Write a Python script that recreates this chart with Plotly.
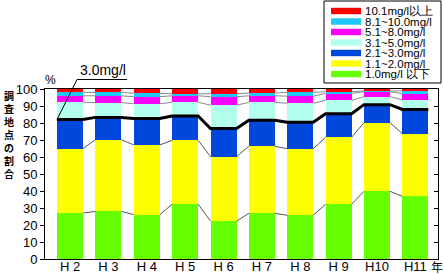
import plotly.graph_objects as go

# ---------------- data ----------------
categories = ["H 2", "H 3", "H 4", "H 5", "H 6", "H 7", "H 8", "H 9", "H10", "H11"]
green_le1 = [27.0, 28.0, 26.1, 32.2, 22.3, 26.9, 25.7, 32.2, 39.8, 36.9]
yellow_1_2 = [38.0, 42.2, 41.0, 37.6, 37.9, 39.4, 39.2, 39.4, 40.4, 36.8]
blue_2_3 = [17.0, 13.1, 15.6, 14.3, 16.5, 15.3, 15.5, 13.9, 10.6, 14.3]
aqua_3_5 = [10.2, 8.7, 8.6, 8.1, 13.8, 10.5, 11.2, 7.8, 4.7, 5.7]
magenta_5_8 = [3.8, 4.0, 4.2, 3.8, 5.0, 3.9, 4.2, 4.1, 2.9, 3.6]
cyan_8_10 = [2.0, 2.0, 2.0, 1.2, 1.7, 1.6, 2.2, 1.0, 0.5, 1.5]
red_ge10 = [2.0, 2.0, 2.5, 2.8, 2.8, 2.4, 2.0, 1.6, 1.1, 1.2]

series_names = ["1.0mg/l 以下", "1.1~2.0mg/l", "2.1~3.0mg/l", "3.1~5.0mg/l",
                "5.1~8.0mg/l", "8.1~10.0mg/l", "10.1mg/l以上"]
series_values = [green_le1, yellow_1_2, blue_2_3, aqua_3_5, magenta_5_8, cyan_8_10, red_ge10]
series_colors = ["#66FF00", "#FFFF00", "#0047DB", "#B3FFEE", "#FF00FF", "#1EC8F8", "#FF0000"]
yaxis_title_chars = ["調", "査", "地", "点", "の", "割", "合"]
ytick_vals = list(range(0, 101, 10))

# ---------------- layout geometry ----------------
W, H = 443, 274
PL, PR, PT, PB = 45, 438, 89, 259  # plot area in pixels
BAR_W = 0.678
XMIN, XMAX = -0.652, 9.59
FONT = "Liberation Sans, Arial, sans-serif"
CJK = "Noto Sans CJK JP, sans-serif"


def px(xp):
    return (xp - PL) / (PR - PL)


def py(yp):
    return (PB - yp) / (PB - PT)


xs = list(range(len(categories)))
fig = go.Figure()

for name, vals, col in zip(series_names, series_values, series_colors):
    fig.add_trace(go.Bar(x=xs, y=vals, name=name, marker_color=col,
                         marker_line_width=0, width=BAR_W, showlegend=False))

# cumulative boundaries
cums = []
run = [0.0] * len(categories)
for vals in series_values:
    run = [a + b for a, b in zip(run, vals)]
    cums.append(list(run))

# connector (series) lines between bars
for k, c in enumerate(cums[:-1]):
    if k == 2:
        continue
    lx, ly = [], []
    for i in range(len(categories) - 1):
        lx += [i + BAR_W / 2, i + 1 - BAR_W / 2, None]
        ly += [c[i], c[i + 1], None]
    fig.add_trace(go.Scatter(x=lx, y=ly, mode="lines",
                             line=dict(color="#555555" if k < 2 else "#888888", width=1),
                             showlegend=False, hoverinfo="skip"))

# thick black 3.0 mg/l line
bx, by = [], []
for i in range(len(categories)):
    bx += [i - BAR_W / 2, i + BAR_W / 2]
    by += [cums[2][i], cums[2][i]]
fig.add_trace(go.Scatter(x=bx, y=by, mode="lines", line=dict(color="black", width=3),
                         showlegend=False, hoverinfo="skip"))

# dummy trace for right axis ticks
fig.add_trace(go.Scatter(x=[None], y=[None], yaxis="y2", showlegend=False))

shapes = []
annotations = []

# legend box
shapes.append(dict(type="rect", xref="paper", yref="paper",
                   x0=px(324), x1=px(441), y0=py(83), y1=py(1),
                   line=dict(color="black", width=1), fillcolor="white"))
row_y = [11, 21.5, 32, 42.5, 53, 63.5, 74]
for j, (name, col) in enumerate(zip(series_names[::-1], series_colors[::-1])):
    yc = row_y[j]
    shapes.append(dict(type="rect", xref="paper", yref="paper",
                       x0=px(331), x1=px(361), y0=py(yc + 3.2), y1=py(yc - 3.2),
                       line=dict(width=0), fillcolor=col))
    annotations.append(dict(xref="paper", yref="paper", x=px(363), y=py(yc),
                            xanchor="left", yanchor="middle", text=name, showarrow=False,
                            font=dict(family=FONT, size=11.5, color="black")))

# 3.0mg/l callout
annotations.append(dict(xref="paper", yref="paper", x=px(78), y=py(70.5),
                        xanchor="left", yanchor="middle", text="3.0mg/l", showarrow=False,
                        font=dict(family=FONT, size=14, color="black")))
shapes.append(dict(type="line", xref="paper", yref="paper",
                   x0=px(77), x1=px(127), y0=py(79.5), y1=py(79.5),
                   line=dict(color="black", width=1)))
end_x = (0 - BAR_W / 2 - XMIN) / (XMAX - XMIN)
end_y = cums[2][0] / 100.0
shapes.append(dict(type="line", xref="paper", yref="paper",
                   x0=px(77), y0=py(79.5), x1=end_x, y1=end_y,
                   line=dict(color="black", width=1)))

# % sign
annotations.append(dict(xref="paper", yref="paper", x=px(50), y=py(80),
                        xanchor="center", yanchor="middle", text="%", showarrow=False,
                        font=dict(family=FONT, size=12, color="black")))
# 年
annotations.append(dict(xref="paper", yref="paper", x=px(436.5), y=py(266),
                        xanchor="center", yanchor="middle", text="年", showarrow=False,
                        font=dict(family=CJK, size=12, color="black")))
# vertical y-axis title (one text, one character per line)
annotations.append(dict(xref="paper", yref="paper", x=px(9), y=py(86),
                        xanchor="center", yanchor="top",
                        text="<b>" + "<br>".join(yaxis_title_chars) + "</b>",
                        showarrow=False, align="center",
                        font=dict(family=CJK, size=10, color="black")))

fig.update_layout(
    width=W, height=H,
    margin=dict(l=PL, r=W - PR, t=PT, b=H - PB, pad=0, autoexpand=False),
    paper_bgcolor="white", plot_bgcolor="white",
    barmode="stack", showlegend=False,
    font=dict(family=FONT, size=13, color="black"),
    xaxis=dict(range=[XMIN, XMAX], tickvals=xs, ticktext=categories, ticks="",
               ticklabelstandoff=-5,
               showline=True, linecolor="black", linewidth=1, mirror=True,
               showgrid=False, zeroline=False, tickfont=dict(size=13)),
    yaxis=dict(range=[0, 100], tickvals=ytick_vals, ticks="outside", ticklen=4,
               tickcolor="black", showline=True, linecolor="black", linewidth=1,
               mirror=True, showgrid=False, zeroline=False, tickfont=dict(size=13)),
    yaxis2=dict(range=[0, 100], tickvals=ytick_vals, overlaying="y", side="right",
                ticks="inside", ticklen=4, tickcolor="black", showticklabels=False,
                showline=False, showgrid=False, zeroline=False),
    shapes=shapes, annotations=annotations,
)

fig.write_html("out.html")
